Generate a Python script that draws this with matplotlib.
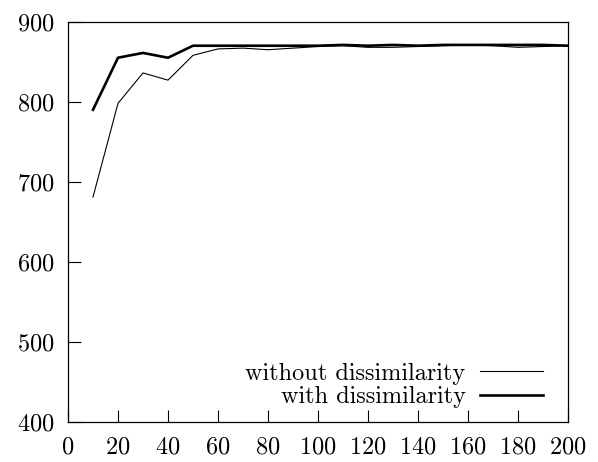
import matplotlib
matplotlib.use('Agg')
import matplotlib.pyplot as plt

# iterations
iters = [10, 20, 30, 40, 50, 60, 70, 80, 90, 100, 110, 120, 130, 140, 150, 160, 170, 180, 190, 200]
without_dis = [681, 798, 836, 827, 858, 866, 867, 865, 867, 869, 870, 868, 868, 869, 870, 871, 870, 868, 869, 870]
with_dis = [790, 855, 861, 855, 870, 870, 870, 870, 870, 870, 871, 870, 871, 870, 871, 871, 871, 871, 871, 870]

plt.rcParams['font.family'] = 'cmr10'
plt.rcParams['axes.formatter.use_mathtext'] = True
plt.rcParams['font.size'] = 17.5

fig = plt.figure(figsize=(5.98, 4.62), dpi=100)
ax = fig.add_axes([68 / 598, 40 / 462, 500 / 598, 400.3 / 462])

ax.plot(iters, without_dis, color='black', lw=0.8, label='without dissimilarity')
ax.plot(iters, with_dis, color='black', lw=1.9, label='with dissimilarity')

ax.set_xlim(0, 200)
ax.set_ylim(400, 900)
ax.set_xticks(range(0, 201, 20))
ax.set_yticks(range(400, 901, 100))
ax.tick_params(direction='in', length=9, width=0.8, pad=10, top=False, right=False)
for s in ax.spines.values():
    s.set_linewidth(0.9)

ax.legend(loc='lower right', bbox_to_anchor=(0.985, -0.008), frameon=False,
          markerfirst=False, handlelength=2.6, handletextpad=0.6,
          labelspacing=0.05, borderpad=0.2)

fig.savefig('out.png', dpi=100)
